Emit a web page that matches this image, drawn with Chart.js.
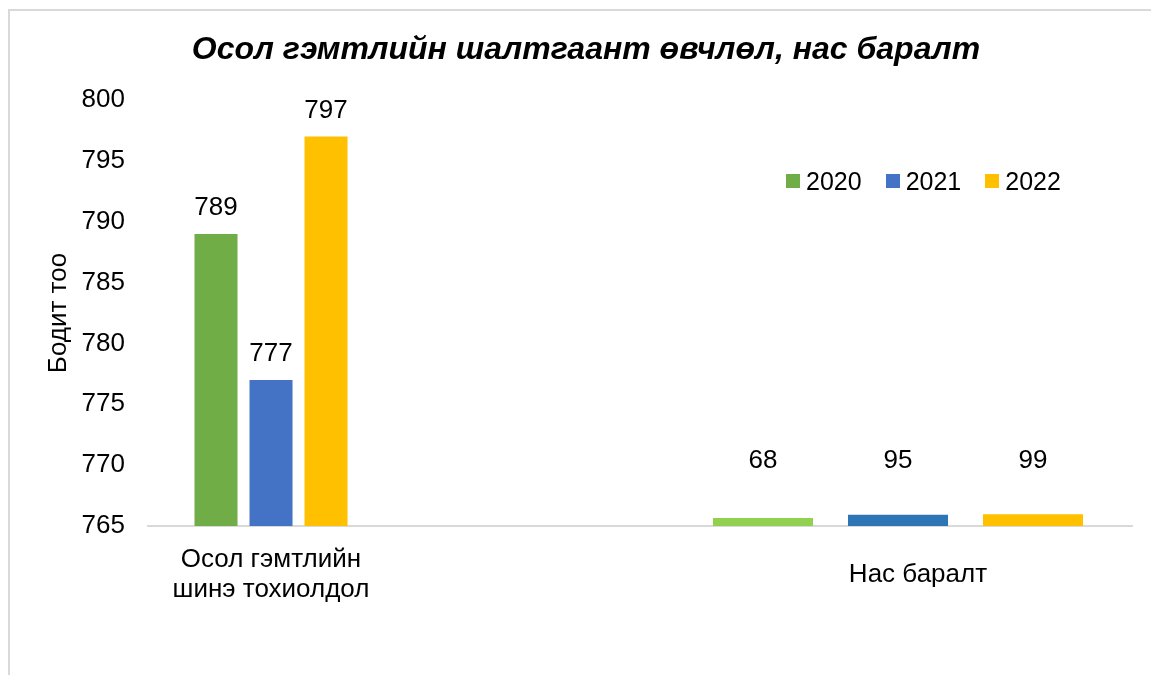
<!DOCTYPE html>
<html>
<head>
<meta charset="utf-8">
<script src="https://cdn.jsdelivr.net/npm/chart.js@4"></script>
<style>
  html, body { margin: 0; padding: 0; background: #fff; overflow: hidden; }
  #wrap { position: relative; width: 1151px; height: 675px; }
  #frame { position: absolute; left: 8px; top: 9px; width: 1300px; height: 800px;
           border: 2px solid #d9d9d9; box-sizing: border-box; }
  #chart { position: absolute; left: 0; top: 0; }
  #legend { position: absolute; left: 786px; top: 168px; height: 26px; display: flex;
            align-items: center; gap: 24px; font: 25px "Liberation Sans", Arial, sans-serif; color: #000; }
  #legend span.item { display: inline-flex; align-items: center; line-height: 26px; }
  #legend span.box { display: inline-block; width: 14px; height: 14px; margin-right: 6px; }
</style>
</head>
<body>
<div id="wrap">
  <div id="frame"></div>
  <canvas id="chart" width="1151" height="675"></canvas>
  <div id="legend"></div>
</div>
<script>
const categories = [["Осол гэмтлийн", "шинэ тохиолдол"], "Нас баралт"];
const years = ["2020", "2021", "2022"];
const values2020 = [789, 68];
const values2021 = [777, 95];
const values2022 = [797, 99];
const yTicks = [765, 770, 775, 780, 785, 790, 795, 800];

const seriesValues = [values2020, values2021, values2022];
const colorsMain = ["#70AD47", "#4472C4", "#FFC000"];
const colorsDeath = ["#92D050", "#2E75B6", "#FFC000"];
const FONT = '"Liberation Sans", Arial, sans-serif';

// каждая группа берёт только свою категорию, остальное null
const pick = (vals, keep) => vals.map((v, i) => ({ x: i, y: i === keep ? v : null }));

const datasets = [];
years.forEach((yr, i) => {
  datasets.push({
    label: yr,
    data: pick(seriesValues[i], 0),
    backgroundColor: colorsMain[i],
    xAxisID: "xb",
    yAxisID: "y",
    skipNull: true,
    categoryPercentage: 0.2632,
    barPercentage: 0.782,
    labelFromTop: 26,
  });
});
years.forEach((yr, i) => {
  datasets.push({
    label: yr,
    data: pick(seriesValues[i], 1),
    backgroundColor: colorsDeath[i],
    xAxisID: "xb",
    yAxisID: "y2",
    skipNull: true,
    categoryPercentage: 0.6459,
    barPercentage: 0.741,
    labelFromBase: 65,
  });
});

// подписи значений над столбцами
const valueLabels = {
  id: "valueLabels",
  afterDatasetsDraw(chart) {
    const ctx = chart.ctx;
    ctx.save();
    ctx.font = "26px " + FONT;
    ctx.fillStyle = "#000";
    ctx.textAlign = "center";
    ctx.textBaseline = "middle";
    chart.data.datasets.forEach((ds, di) => {
      const meta = chart.getDatasetMeta(di);
      meta.data.forEach((bar, i) => {
        const v = ds.data[i].y;
        if (v === null) return;
        const y = ds.labelFromBase ? bar.base - ds.labelFromBase : bar.y - ds.labelFromTop;
        ctx.fillText(String(v), bar.x, y);
      });
    });
    ctx.restore();
  },
};

const catTicks = (s) => { s.ticks = categories.map((_, i) => ({ value: i })); };

new Chart(document.getElementById("chart").getContext("2d"), {
  type: "bar",
  data: { datasets },
  options: {
    responsive: false,
    animation: false,
    layout: { padding: { left: 40, right: 19, top: 10, bottom: 0 } },
    plugins: {
      legend: { display: false },
      tooltip: { enabled: false },
      title: {
        display: true,
        text: "Осол гэмтлийн шалтгаант өвчлөл, нас баралт",
        color: "#000",
        font: { family: FONT, size: 32, weight: "bold", style: "italic", lineHeight: 1.2 },
        padding: { top: 21, bottom: 30.6 },
      },
    },
    scales: {
      // видимая ось только для подписей категорий
      x: {
        type: "linear",
        position: "bottom",
        offset: false,
        min: -0.1901,
        max: 1.3308,
        afterBuildTicks: catTicks,
        afterFit: (s) => { s.height = 149; },
        grid: { display: false, drawTicks: false },
        border: { display: true, color: "#d9d9d9", width: 2 },
        ticks: {
          callback: (v, i) => categories[i],
          color: "#000",
          padding: 34,
          crossAlign: "center",
          maxRotation: 0,
          font: { family: FONT, size: 26, lineHeight: 1.15 },
        },
      },
      // скрытая ось для столбцов
      xb: {
        type: "linear",
        axis: "x",
        position: "bottom",
        display: false,
        offset: false,
        min: -0.1962,
        max: 1.3732,
        afterBuildTicks: catTicks,
      },
      y: {
        min: yTicks[0],
        max: yTicks[yTicks.length - 1],
        afterBuildTicks: (s) => { s.ticks = yTicks.map((v) => ({ value: v })); },
        afterFit: (s) => { s.width = 108; },
        grid: { display: false, drawTicks: false },
        border: { display: false },
        ticks: {
          color: "#000",
          padding: 23,
          font: { family: FONT, size: 26 },
        },
        title: {
          display: true,
          text: "Бодит тоо",
          color: "#000",
          padding: { top: 3, bottom: 0 },
          font: { family: FONT, size: 26, lineHeight: 1.2 },
        },
      },
      y2: {
        display: false,
        min: 0,
        max: 3600,
      },
    },
  },
  plugins: [valueLabels],
});

// легенда
const legend = document.getElementById("legend");
years.forEach((yr, i) => {
  const item = document.createElement("span");
  item.className = "item";
  item.innerHTML = '<span class="box" style="background:' + colorsMain[i] + '"></span>' + yr;
  legend.appendChild(item);
});
</script>
</body>
</html>
